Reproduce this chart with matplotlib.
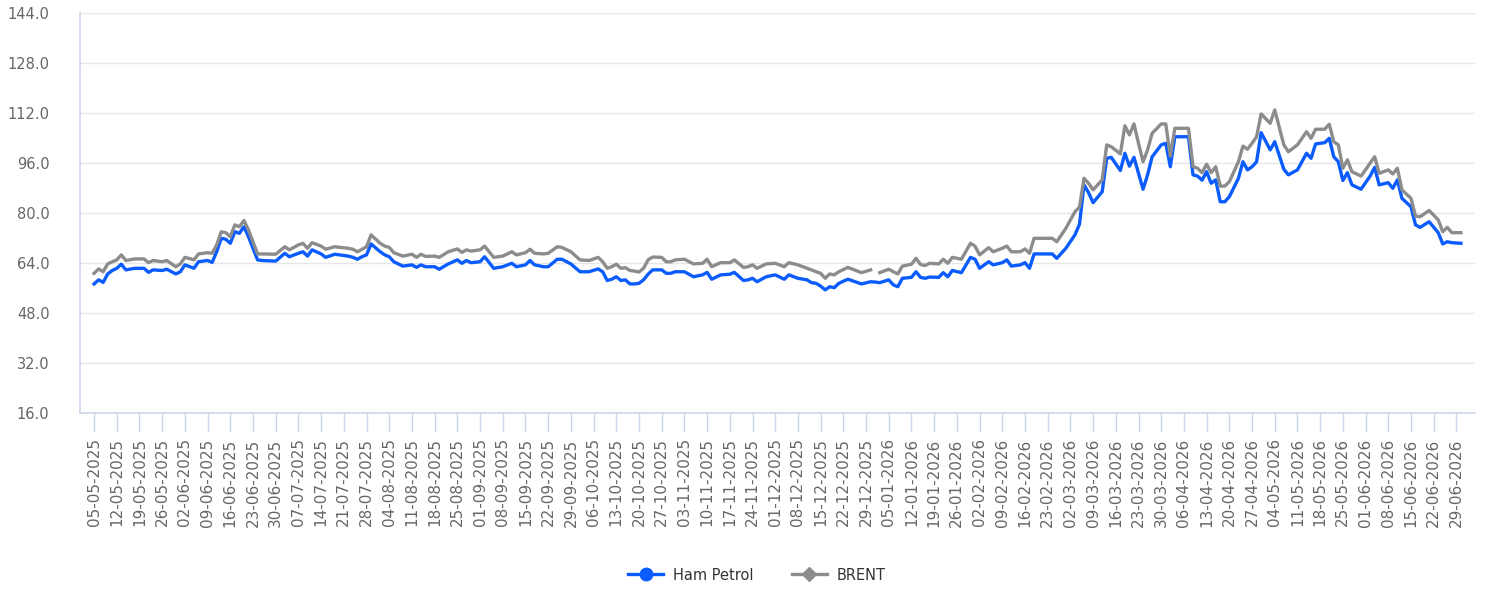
import numpy as np
import pandas as pd
import matplotlib
matplotlib.use("Agg")
import matplotlib.pyplot as plt
from matplotlib.lines import Line2D

# trading days on the category axis, ticks every 5 (each Monday)
trading_days = pd.bdate_range("2025-05-05", periods=302)
tick_step = 5

# readings: day number on the axis, Ham Petrol, BRENT (nan = missing day)
sample_days = [
    0, 1, 2, 3, 4, 5, 6, 7, 9, 11, 12, 13, 15, 16, 18, 19, 20, 22, 23, 25,
    26, 27, 28, 29, 30, 31, 32, 33, 34, 36, 37, 40, 42, 43, 45, 46, 47, 48, 50, 51,
    53, 56, 57, 58, 59, 60, 61, 63, 64, 65, 66, 68, 70, 71, 72, 73, 75, 76, 78, 80,
    81, 82, 83, 85, 86, 88, 90, 92, 93, 95, 96, 97, 99, 100, 102, 103, 105, 107, 109, 111,
    112, 113, 114, 115, 116, 117, 118, 119, 120, 121, 122, 123, 125, 126, 127, 128, 130, 132, 134, 135,
    136, 138, 140, 141, 143, 144, 145, 146, 148, 150, 152, 153, 155, 157, 158, 159, 160, 161, 162, 163,
    164, 166, 169, 171, 172, 173, 175, 176, 177, 178, 180, 181, 182, 183, 184, 186, 187, 188, 189, 191,
    193, 194, 195, 197, 198, 200, 201, 202, 204, 205, 206, 207, 211, 212, 214, 216, 217, 218, 219, 220,
    222, 223, 224, 226, 227, 228, 229, 230, 231, 232, 233, 235, 236, 237, 238, 241, 242, 243, 244, 245,
    246, 247, 248, 249, 250, 252, 253, 254, 255, 256, 257, 259, 260, 262, 263, 265, 267, 268, 269, 271,
    272, 273, 274, 275, 276, 277, 279, 281, 282, 283, 285, 286, 287, 288, 290, 291, 292, 294, 296, 297,
    298, 299, 301,
]
ham_petrol = [
    57.4, 58.7, 57.9, 60.6, 61.7, 62.4, 63.7, 61.9, 62.4, 62.4, 61.1, 61.9, 61.7, 62.1, 60.6, 61.3, 63.5, 62.4, 64.5, 64.9,
    64.3, 67.7, 72.0, 71.7, 70.4, 74.1, 73.6, 75.7, 72.5, 65.1, 64.9, 64.7, 67.2, 66.1, 67.2, 67.7, 66.3, 68.3, 67.0, 65.9,
    66.9, 66.3, 65.9, 65.3, 66.1, 66.7, 70.2, 67.7, 66.7, 66.1, 64.5, 63.1, 63.5, 62.7, 63.5, 62.9, 62.9, 62.1, 63.8, 65.1,
    64.0, 64.9, 64.2, 64.5, 66.1, 62.4, 62.9, 64.0, 62.9, 63.5, 64.9, 63.5, 62.9, 62.9, 65.3, 65.3, 63.8, 61.3, 61.3, 62.2,
    61.3, 58.5, 58.9, 59.7, 58.5, 58.7, 57.4, 57.4, 57.6, 58.7, 60.5, 61.9, 61.9, 60.8, 60.8, 61.3, 61.3, 59.7, 60.3, 61.1,
    58.9, 60.3, 60.5, 61.1, 58.5, 58.7, 59.2, 58.1, 59.7, 60.3, 58.9, 60.3, 59.2, 58.7, 57.8, 57.6, 56.7, 55.5, 56.5, 56.2,
    57.6, 58.9, 57.4, 58.1, 58.0, 57.8, 58.7, 57.1, 56.5, 59.2, 59.5, 61.3, 59.5, 59.2, 59.6, 59.5, 61.0, 59.7, 61.7, 61.0,
    65.9, 65.3, 62.4, 64.5, 63.5, 64.2, 65.1, 63.1, 63.5, 64.2, 62.4, 67.0, 67.0, 65.6, 68.8, 73.1, 76.5, 89.1, 86.6, 83.4,
    86.9, 97.6, 97.9, 93.7, 99.2, 95.1, 97.9, 92.8, 87.7, 92.3, 98.1, 101.9, 102.4, 94.9, 104.5, 104.5, 92.3, 91.9, 90.6, 93.3,
    89.6, 90.7, 83.7, 83.7, 85.3, 91.2, 96.5, 93.9, 94.9, 96.5, 105.8, 100.3, 102.9, 94.1, 92.3, 93.9, 99.2, 97.6, 102.2, 102.6,
    104.0, 98.1, 96.5, 90.5, 93.0, 89.1, 87.7, 91.9, 94.7, 89.1, 89.8, 88.0, 90.7, 84.8, 82.1, 76.3, 75.5, 77.3, 73.8, 70.2,
    70.9, 70.6, 70.4,
]
brent = [
    60.8, 62.2, 61.3, 63.8, 64.5, 65.1, 66.7, 64.9, 65.4, 65.4, 64.2, 64.9, 64.5, 64.9, 62.9, 63.8, 65.9, 65.1, 67.0, 67.4,
    67.2, 69.9, 74.1, 73.8, 72.5, 76.3, 75.7, 77.7, 74.7, 67.0, 67.0, 66.9, 69.3, 68.3, 69.9, 70.4, 68.8, 70.6, 69.5, 68.5,
    69.3, 68.8, 68.5, 67.7, 68.5, 69.3, 73.1, 70.4, 69.5, 69.1, 67.4, 66.3, 66.9, 65.9, 66.9, 66.2, 66.3, 65.9, 67.7, 68.6,
    67.5, 68.3, 67.9, 68.3, 69.5, 65.9, 66.3, 67.7, 66.7, 67.4, 68.5, 67.2, 67.0, 67.2, 69.3, 69.1, 67.7, 65.1, 64.9, 65.9,
    64.5, 62.4, 62.9, 63.7, 62.4, 62.6, 61.7, 61.5, 61.2, 62.4, 65.1, 66.0, 65.9, 64.5, 64.5, 65.1, 65.3, 63.8, 64.0, 65.3,
    62.9, 64.2, 64.2, 65.1, 62.7, 62.9, 63.5, 62.4, 63.8, 64.0, 62.9, 64.2, 63.5, 62.4, 61.9, 61.3, 60.8, 59.2, 60.6, 60.3,
    61.3, 62.7, 61.0, 61.9, np.nan, 61.0, 62.1, 61.3, 60.6, 63.1, 63.7, 65.6, 63.6, 63.3, 64.0, 63.8, 65.3, 64.0, 65.9, 65.3,
    70.4, 69.5, 66.7, 69.0, 67.7, 68.8, 69.5, 67.7, 67.7, 68.6, 67.2, 72.0, 72.0, 70.9, 75.2, 80.5, 82.0, 91.2, 89.6, 87.5,
    90.7, 101.9, 101.3, 99.0, 108.0, 105.1, 108.6, 102.4, 96.5, 100.3, 105.6, 108.6, 108.6, 98.3, 107.2, 107.2, 95.0, 94.4, 93.0, 95.7,
    93.0, 94.9, 88.7, 88.7, 90.1, 96.5, 101.5, 100.5, 102.4, 104.5, 111.8, 108.8, 113.1, 101.9, 99.7, 101.9, 106.1, 104.0, 106.9, 106.9,
    108.5, 102.9, 101.9, 94.4, 97.1, 93.3, 91.9, 96.0, 98.1, 92.8, 93.9, 92.6, 94.4, 87.5, 84.8, 79.1, 78.9, 80.9, 77.9, 74.1,
    75.5, 73.8, 73.8,
]
y_ticks = [16, 32, 48, 64, 80, 96, 112, 128, 144]

blue = "#0a5cff"
grey = "#8c8c8c"
axis_col = "#ccd6eb"

fig = plt.figure(figsize=(14.9, 5.89), dpi=100)
ax = fig.add_axes([80 / 1490, 1 - 413.3 / 589, 1395 / 1490, 400 / 589])

ax.plot(sample_days, ham_petrol, color=blue, lw=2.4, solid_joinstyle="round", zorder=3)
ax.plot(sample_days, brent, color=grey, lw=2.4, solid_joinstyle="round", zorder=4)

ax.set_ylim(16, 144)
ax.set_yticks(y_ticks)
ax.set_yticklabels([f"{v:.1f}" for v in y_ticks])
ax.set_xlim(-3.1, 304.1)
ticks = list(range(0, len(trading_days), tick_step))
ax.set_xticks(ticks)
ax.set_xticklabels([trading_days[i].strftime("%d-%m-%Y") for i in ticks], rotation=90)

ax.grid(axis="y", color="#e6e6e6", lw=1)
ax.set_axisbelow(True)
for s in ("top", "right"):
    ax.spines[s].set_visible(False)
for s in ("left", "bottom"):
    ax.spines[s].set_color(axis_col)
    ax.spines[s].set_linewidth(1.2)
ax.tick_params(axis="y", length=0, pad=22, labelsize=10.5, labelcolor="#666666")
ax.tick_params(axis="x", length=14, width=1, color=axis_col, pad=4,
               labelsize=11, labelcolor="#666666")

handles = [
    Line2D([], [], color=blue, lw=2.4, marker="o", markersize=9),
    Line2D([], [], color=grey, lw=2.4, marker="D", markersize=7),
]
fig.legend(handles, ["Ham Petrol", "BRENT"], loc="center",
           bbox_to_anchor=(757 / 1490, 1 - 575 / 589), ncol=2, frameon=False,
           fontsize=10.5, handlelength=2.4, handletextpad=0.7, columnspacing=2.6,
           labelcolor="#333333")

fig.savefig("out.png", dpi=100)
